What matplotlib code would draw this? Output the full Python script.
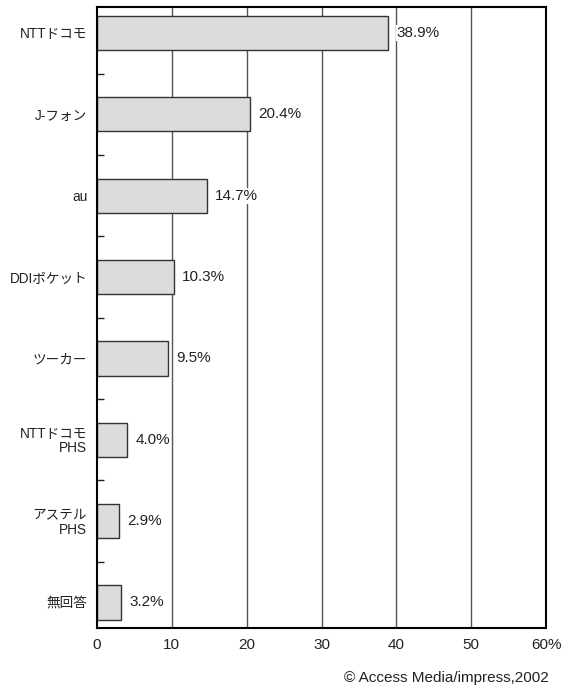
import matplotlib
matplotlib.use("Agg")
import matplotlib.pyplot as plt

plt.rcParams['font.family'] = ['Liberation Sans', 'Noto Sans CJK JP', 'DejaVu Sans']

categories = ["NTTドコモ", "J-フォン", "au", "DDIポケット", "ツーカー", "NTTドコモ\nPHS", "アステル\nPHS", "無回答"]
values = [38.9, 20.4, 14.7, 10.3, 9.5, 4.0, 2.9, 3.2]
xticks = [0, 10, 20, 30, 40, 50, 60]
xticklabels = ["0", "10", "20", "30", "40", "50", "60%"]

fig = plt.figure(figsize=(5.76, 6.88), dpi=100)
ax = fig.add_axes([0.1684, 0.0865, 0.948 - 0.1684, 0.9898 - 0.0865])

ypos = list(range(len(categories)))
for x in xticks[1:-1]:
    ax.axvline(x, color="#555555", lw=1.0, zorder=1)
ax.barh(ypos, values, height=0.42, color="#dcdcdc", edgecolor="#333333", linewidth=1.0, zorder=2)
for y, v in zip(ypos, values):
    ax.text(v + 1.1, y, f"{v:.1f}%", va="center", ha="left", fontsize=11,
            color="#222222", zorder=3,
            bbox=dict(facecolor="white", edgecolor="none", pad=0.5))

ax.set_xlim(0, 60)
ax.set_ylim(len(categories) - 1 + 0.32, -0.32)
ax.set_xticks(xticks)
ax.set_xticklabels(xticklabels, fontsize=11, color="#222222")
ax.tick_params(axis="x", length=0, pad=7)
ax.set_yticks(ypos)
ax.set_yticklabels(categories, fontsize=9.8, color="#222222", linespacing=1.0)
ax.tick_params(axis="y", which="major", length=0, pad=7)
ax.set_yticks([y + 0.5 for y in ypos[:-1]], minor=True)
ax.tick_params(axis="y", which="minor", direction="in", length=5, width=1, color="#222222")
for s in ax.spines.values():
    s.set_linewidth(1.5)
    s.set_color("black")

fig.text(0.952, 0.0145, "© Access Media/impress,2002", ha="right", va="center", fontsize=11, color="#222222")

fig.savefig("out.png", dpi=100)
